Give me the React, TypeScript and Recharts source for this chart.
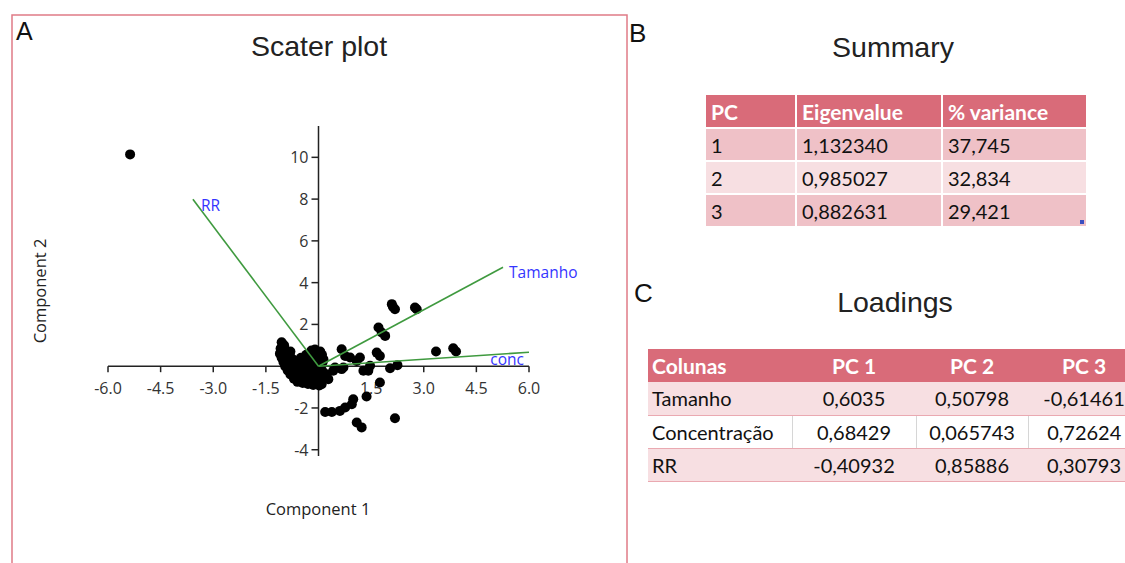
import { ScatterChart, Scatter, XAxis, YAxis, ReferenceLine, ReferenceDot } from 'recharts'

// PCA scores (Component 1, Component 2)
const scoreX = [
  -5.37, 2.09, 2.18, 2.12, 2.75, 2.8, 1.71, 1.8, 1.9, 1.66, 1.75, 3.35, 3.84, 3.92, 2.04, 2.25,
  1.75, 1.37, 0.99, 0.95, 0.76, 0.61, 0.38, 0.19, 1.09, 1.23, 2.18, 0.66, 0.76, 0.9, 1.18, 1.09,
  1.47, 1.42, 1.28, 0.66, 0.71, 0.42, 0.47, 0.23, 0.28, 0.09, 0.04, 0.14,
  -1.05, -0.98, -1.08, -0.95, -1.1, -1.0, -0.9, -1.05, -0.92, -0.8, -1.0, -0.88, -0.75, -0.95,
  -0.82, -0.7, -0.88, -0.75, -0.62, -0.8, -0.65, -0.55, -0.7, -0.55, -0.45, -0.6, -0.45, -0.35,
  -0.3, -0.2, -0.15, -0.05, 0.02, 0.05, 0.12, -0.1, -0.25, -0.4, -0.5, -0.6, -0.7, -0.8,
  -0.35, -0.2, -0.1, 0.05, 0.1, -0.25, -0.1, 0.02, -0.4, -0.3, -0.15, 0.0, 0.12, -0.45, -0.3,
  -0.15, 0.0, 0.1, -0.35, -0.2, -0.05, 0.15, -0.5, -0.55,
]
const scoreY = [
  10.14, 2.97, 2.73, 2.85, 2.81, 2.73, 1.85, 1.61, 1.45, 0.65, 0.49, 0.7, 0.86, 0.7, -0.1, 0.05,
  -0.78, -1.45, -1.58, -1.82, -1.98, -2.14, -2.19, -2.19, -2.7, -2.93, -2.49, 0.81, 0.49, 0.42, 0.42, 0.25,
  0.02, -0.22, -0.22, -0.14, -0.06, -0.22, -0.06, -0.38, -0.62, -0.86, 0.65, 0.33,
  1.15, 1.0, 0.85, 0.8, 0.6, 0.55, 0.6, 0.4, 0.35, 0.45, 0.2, 0.15, 0.25, 0.0,
  -0.05, 0.05, -0.2, -0.25, -0.15, -0.4, -0.45, -0.3, -0.6, -0.65, -0.5, -0.75, -0.8, -0.65,
  -0.85, -0.75, -0.9, -0.8, -0.92, -0.7, -0.6, -0.55, -0.45, -0.3, -0.1, 0.1, 0.3, 0.7,
  0.55, 0.75, 0.8, 0.7, 0.55, 0.4, 0.45, 0.35, 0.3, 0.2, 0.15, 0.15, 0.2, 0.05, -0.05,
  -0.1, -0.05, -0.2, -0.2, -0.3, -0.35, -0.35, 0.4, 0.25,
]

// loading vectors (scaled), as drawn
const loadingNames = ['RR', 'Tamanho', 'conc']
const loadingX = [-3.58, 5.26, 6.0]
const loadingY = [7.99, 4.74, 0.67]

const xTicks = [-6, -4.5, -3, -1.5, 1.5, 3, 4.5, 6]
const yTicks = [-4, -2, 2, 4, 6, 8, 10]

// B: summary table
const summaryHeader = ['PC', 'Eigenvalue', '% variance']
const summaryPC = ['1', '2', '3']
const eigenvalues = ['1,132340', '0,985027', '0,882631']
const variance = ['37,745', '32,834', '29,421']

// C: loadings table
const loadingsHeader = ['Colunas', 'PC 1', 'PC 2', 'PC 3']
const variables = ['Tamanho', 'Concentração', 'RR']
const pc1 = ['0,6035', '0,68429', '-0,40932']
const pc2 = ['0,50798', '0,065743', '0,85886']
const pc3 = ['-0,61461', '0,72624', '0,30793']

const scores = scoreX.map((x, i) => ({ x, y: scoreY[i] }))

const tickFont = { fontFamily: 'Open Sans', fontSize: 16, fill: '#333' }
const axisColor = '#222'
const green = '#3f9a3f'
const blue = '#3535ff'
const headerBg = '#d96b79'
const pinkDark = '#efc1c7'
const pinkLight = '#f7dfe2'

function ScaterPlot() {
  return (
    <ScatterChart
      width={630}
      height={563}
      margin={{ top: 126, right: 101, bottom: 107, left: 108 }}
      style={{ position: 'absolute', left: 0, top: 0 }}
    >
      <XAxis type="number" dataKey="x" domain={[-6, 6]} hide allowDataOverflow height={0} />
      <YAxis type="number" dataKey="y" domain={[-4.3, 11.5]} hide allowDataOverflow width={0} />
      <ReferenceLine y={0} stroke={axisColor} strokeWidth={1.5} />
      <ReferenceLine x={0} stroke={axisColor} strokeWidth={1.5} />
      {xTicks.map((t) => (
        <ReferenceDot
          key={'xt' + t}
          x={t}
          y={0}
          shape={(p: any) => (
            <g>
              <line x1={p.cx} y1={p.cy} x2={p.cx} y2={p.cy + 6} stroke={axisColor} strokeWidth={1.5} />
              <text x={p.cx} y={p.cy + 28} textAnchor="middle" {...tickFont}>
                {t.toFixed(1)}
              </text>
            </g>
          )}
        />
      ))}
      {yTicks.map((t) => (
        <ReferenceDot
          key={'yt' + t}
          x={0}
          y={t}
          shape={(p: any) => (
            <g>
              <line x1={p.cx - 7} y1={p.cy} x2={p.cx} y2={p.cy} stroke={axisColor} strokeWidth={1.5} />
              <text x={p.cx - 10} y={p.cy + 6} textAnchor="end" {...tickFont}>
                {t}
              </text>
            </g>
          )}
        />
      ))}
      <Scatter
        data={scores}
        isAnimationActive={false}
        shape={(p: any) => <circle cx={p.cx} cy={p.cy} r={5} fill="#000" />}
      />
      {loadingNames.map((name, i) => (
        <Scatter
          key={name}
          data={[
            { x: 0, y: 0 },
            { x: loadingX[i], y: loadingY[i] },
          ]}
          isAnimationActive={false}
          line={{ stroke: green, strokeWidth: 1.6 }}
          shape={() => <g />}
        />
      ))}
      {loadingNames.map((name, i) => (
        <ReferenceDot
          key={'lab' + name}
          x={loadingX[i]}
          y={loadingY[i]}
          shape={(p: any) => {
            const right = name === 'conc'
            return (
              <text
                x={right ? p.cx - 5 : p.cx + (name === 'RR' ? 8 : 6)}
                y={p.cy + (right ? 13 : name === 'RR' ? 12 : 11)}
                textAnchor={right ? 'end' : 'start'}
                fontFamily="Open Sans"
                fontSize={15.5}
                fill={blue}
              >
                {name}
              </text>
            )
          }}
        />
      ))}
    </ScatterChart>
  )
}

const cell = {
  padding: '0 0 0 5px',
  height: 31,
  fontFamily: 'Lato',
  fontSize: 20,
  color: '#111',
  boxSizing: 'border-box' as const,
  whiteSpace: 'nowrap' as const,
}

function SummaryTable() {
  return (
    <table
      style={{
        position: 'absolute',
        left: 704,
        top: 93,
        borderCollapse: 'separate',
        borderSpacing: 2,
      }}
    >
      <tbody>
        <tr>
          {summaryHeader.map((h, i) => (
            <td
              key={h}
              style={{
                ...cell,
                height: 32,
                width: [89, 144, 143][i],
                background: headerBg,
                color: '#fff',
                fontWeight: 700,
                fontSize: 21,
              }}
            >
              {h}
            </td>
          ))}
        </tr>
        {summaryPC.map((pc, r) => (
          <tr key={pc}>
            {[pc, eigenvalues[r], variance[r]].map((v, c) => (
              <td key={c} style={{ ...cell, background: r === 1 ? pinkLight : pinkDark, position: 'relative' }}>
                {v}
                {r === 2 && c === 2 ? (
                  <span
                    style={{
                      position: 'absolute',
                      right: 2,
                      bottom: 2,
                      width: 4,
                      height: 4,
                      background: '#3b4fc0',
                    }}
                  />
                ) : null}
              </td>
            ))}
          </tr>
        ))}
      </tbody>
    </table>
  )
}

function LoadingsTable() {
  const widths = [144, 124, 112, 112]
  return (
    <table
      style={{
        position: 'absolute',
        left: 648,
        top: 349,
        borderCollapse: 'collapse',
        tableLayout: 'fixed',
        width: 492,
      }}
    >
      <tbody>
        <tr>
          {loadingsHeader.map((h, i) => (
            <td
              key={h}
              style={{
                ...cell,
                height: 33,
                width: widths[i],
                padding: i === 0 ? '0 0 0 4px' : 0,
                textAlign: i === 0 ? 'left' : 'center',
                background: headerBg,
                color: '#fff',
                fontWeight: 700,
                fontSize: 21,
              }}
            >
              {h}
            </td>
          ))}
        </tr>
        {variables.map((v, r) => (
          <tr key={v}>
            {[v, pc1[r], pc2[r], pc3[r]].map((val, c) => (
              <td
                key={c}
                style={{
                  ...cell,
                  height: 33,
                  padding: c === 0 ? '0 0 0 4px' : 0,
                  textAlign: c === 0 ? 'left' : 'center',
                  background: r === 1 ? '#fff' : pinkLight,
                  borderBottom: '1.5px solid #eaa9b1',
                  borderRight: r === 1 && c < 3 ? '1px solid #d6d6d6' : 'none',
                }}
              >
                {val}
              </td>
            ))}
          </tr>
        ))}
      </tbody>
    </table>
  )
}

export default function App() {
  return (
    <div
      style={{
        position: 'absolute',
        left: 0,
        top: 0,
        width: 1125,
        height: 563,
        overflow: 'hidden',
        background: '#fff',
      }}
    >
      <svg width={1125} height={563} style={{ position: 'absolute', left: 0, top: 0 }}>
        <rect x={12} y={15} width={615} height={600} fill="none" stroke="#e07b87" strokeWidth={1.5} />
        <text x={16} y={40} fontFamily="Liberation Sans" fontSize={25} fill="#111">
          A
        </text>
        <text x={319} y={56} textAnchor="middle" fontFamily="Liberation Sans" fontSize={28.5} fill="#222">
          Scater plot
        </text>
        <text x={318} y={515} textAnchor="middle" fontFamily="Open Sans" fontSize={16.5} fill="#222">
          Component 1
        </text>
        <text
          x={46}
          y={291}
          textAnchor="middle"
          transform="rotate(-90 46 291)"
          fontFamily="Open Sans"
          fontSize={16.5}
          fill="#222"
        >
          Component 2
        </text>
        <text x={629} y={42} fontFamily="Liberation Sans" fontSize={26} fill="#111">
          B
        </text>
        <text x={893} y={57} textAnchor="middle" fontFamily="Liberation Sans" fontSize={28.5} fill="#222">
          Summary
        </text>
        <text x={634} y={302} fontFamily="Liberation Sans" fontSize={26} fill="#111">
          C
        </text>
        <text x={895} y={312} textAnchor="middle" fontFamily="Liberation Sans" fontSize={28.5} fill="#222">
          Loadings
        </text>
      </svg>
      <ScaterPlot />
      <SummaryTable />
      <LoadingsTable />
    </div>
  )
}
